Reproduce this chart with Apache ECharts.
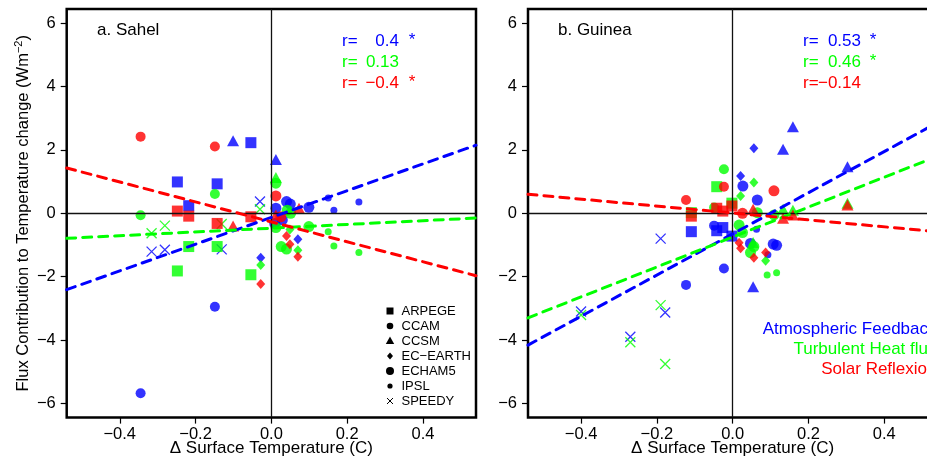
<!DOCTYPE html>
<html><head><meta charset="utf-8">
<script src="https://cdn.jsdelivr.net/npm/echarts@6/dist/echarts.min.js"></script>
<style>
html,body{margin:0;padding:0;overflow:hidden;background:#fff;width:927px;height:459px}
#c{width:960px;height:459px}
</style></head>
<body><div id="c"></div>
<script>
// ---------------- DATA ----------------
const xTicks = [-0.4, -0.2, 0, 0.2, 0.4];
const yTicks = [-6, -4, -2, 0, 2, 4, 6];
const models = ['ARPEGE', 'CCAM', 'CCSM', 'EC-EARTH', 'ECHAM5', 'IPSL', 'SPEEDY'];
const components = ['Atmospheric Feedback', 'Turbulent Heat flux', 'Solar Reflexion'];
const panelTitles = ['a. Sahel', 'b. Guinea'];

// [dT, flux, model]  -- Sahel
const sahelAtm = [
  [-0.248, 0.99, 'ARPEGE'], [-0.218, 0.24, 'ARPEGE'], [-0.143, 0.93, 'ARPEGE'], [-0.054, 2.23, 'ARPEGE'],
  [-0.345, -5.68, 'CCAM'], [-0.149, -2.95, 'CCAM'],
  [-0.101, 2.29, 'CCSM'], [0.012, 1.70, 'CCSM'],
  [-0.028, -1.40, 'EC-EARTH'], [0.070, -0.82, 'EC-EARTH'],
  [0.040, 0.37, 'ECHAM5'], [0.050, 0.29, 'ECHAM5'], [0.099, 0.19, 'ECHAM5'], [0.012, 0.16, 'ECHAM5'], [0.029, -0.21, 'ECHAM5'], [0.009, -0.32, 'ECHAM5'],
  [0.150, 0.48, 'IPSL'], [0.165, 0.10, 'IPSL'], [0.231, 0.36, 'IPSL'],
  [-0.316, -1.21, 'SPEEDY'], [-0.281, -1.15, 'SPEEDY'], [-0.131, -1.14, 'SPEEDY'], [-0.030, 0.37, 'SPEEDY']
];
const sahelTurb = [
  [-0.248, -1.82, 'ARPEGE'], [-0.218, -1.05, 'ARPEGE'], [-0.143, -1.05, 'ARPEGE'], [-0.054, -1.94, 'ARPEGE'],
  [-0.345, -0.06, 'CCAM'], [-0.149, 0.61, 'CCAM'],
  [0.012, 1.13, 'CCSM'],
  [-0.028, -1.63, 'EC-EARTH'], [0.070, -1.17, 'EC-EARTH'], [0.049, -0.51, 'EC-EARTH'],
  [0.012, 0.95, 'ECHAM5'], [0.042, 0.10, 'ECHAM5'], [0.051, 0.00, 'ECHAM5'], [0.012, -0.45, 'ECHAM5'], [0.099, -0.42, 'ECHAM5'], [0.026, -1.05, 'ECHAM5'], [0.040, -1.13, 'ECHAM5'],
  [0.150, -0.58, 'IPSL'], [0.165, -1.03, 'IPSL'], [0.231, -1.24, 'IPSL'],
  [-0.316, -0.63, 'SPEEDY'], [-0.281, -0.39, 'SPEEDY'], [-0.131, -0.34, 'SPEEDY'], [-0.030, 0.13, 'SPEEDY']
];
const sahelSol = [
  [-0.248, 0.07, 'ARPEGE'], [-0.218, -0.09, 'ARPEGE'], [-0.143, -0.32, 'ARPEGE'], [-0.054, -0.11, 'ARPEGE'],
  [-0.345, 2.42, 'CCAM'], [-0.149, 2.11, 'CCAM'],
  [-0.101, -0.40, 'CCSM'], [0.012, -0.05, 'CCSM'], [0.073, 0.16, 'CCSM'],
  [-0.028, -2.23, 'EC-EARTH'], [0.070, -1.37, 'EC-EARTH'], [0.049, -0.98, 'EC-EARTH'], [0.040, -0.72, 'EC-EARTH'],
  [0.012, 0.55, 'ECHAM5'], [0.025, -0.11, 'ECHAM5']
];
// Guinea
const guineaAtm = [
  [-0.109, -0.58, 'ARPEGE'], [-0.042, -0.55, 'ARPEGE'], [-0.026, -0.45, 'ARPEGE'], [-0.002, -0.72, 'ARPEGE'],
  [-0.123, -2.26, 'CCAM'], [-0.023, -1.74, 'CCAM'], [-0.049, -0.39, 'CCAM'],
  [0.159, 2.73, 'CCSM'], [0.133, 2.02, 'CCSM'], [0.303, 1.47, 'CCSM'], [0.054, -2.32, 'CCSM'],
  [0.056, 2.05, 'EC-EARTH'], [0.021, 1.18, 'EC-EARTH'],
  [0.027, 0.86, 'ECHAM5'], [0.065, 0.42, 'ECHAM5'], [0.047, -0.95, 'ECHAM5'], [0.107, -0.97, 'ECHAM5'], [0.116, -1.01, 'ECHAM5'],
  [0.063, -0.50, 'IPSL'], [0.093, -1.31, 'IPSL'],
  [-0.400, -3.10, 'SPEEDY'], [-0.270, -3.90, 'SPEEDY'], [-0.190, -0.80, 'SPEEDY'], [-0.178, -3.13, 'SPEEDY']
];
const guineaTurb = [
  [-0.109, 0.02, 'ARPEGE'], [-0.042, 0.84, 'ARPEGE'], [-0.002, 0.32, 'ARPEGE'],
  [-0.023, 1.39, 'CCAM'], [-0.049, 0.18, 'CCAM'],
  [0.159, 0.10, 'CCSM'], [0.133, 0.13, 'CCSM'], [0.303, 0.32, 'CCSM'], [0.054, -0.92, 'CCSM'],
  [0.056, 0.97, 'EC-EARTH'], [0.021, 0.55, 'EC-EARTH'], [0.087, -1.50, 'EC-EARTH'],
  [0.065, 0.02, 'ECHAM5'], [0.109, -0.05, 'ECHAM5'], [0.017, -0.37, 'ECHAM5'], [0.026, -0.61, 'ECHAM5'], [0.056, -1.05, 'ECHAM5'], [0.047, -1.24, 'ECHAM5'],
  [0.091, -1.95, 'IPSL'], [0.116, -1.88, 'IPSL'],
  [-0.400, -3.21, 'SPEEDY'], [-0.270, -4.07, 'SPEEDY'], [-0.190, -2.90, 'SPEEDY'], [-0.178, -4.76, 'SPEEDY']
];
const guineaSol = [
  [-0.109, -0.09, 'ARPEGE'], [-0.042, 0.16, 'ARPEGE'], [-0.026, 0.07, 'ARPEGE'], [-0.002, 0.23, 'ARPEGE'],
  [-0.123, 0.42, 'CCAM'], [-0.023, 0.84, 'CCAM'],
  [0.159, -0.05, 'CCSM'], [0.133, -0.16, 'CCSM'], [0.303, 0.26, 'CCSM'], [0.054, 0.13, 'CCSM'],
  [0.056, -1.40, 'EC-EARTH'], [0.021, -1.10, 'EC-EARTH'], [0.087, -1.24, 'EC-EARTH'], [0.017, -0.93, 'EC-EARTH'],
  [0.109, 0.71, 'ECHAM5'], [0.026, 0.00, 'ECHAM5']
];

// regression lines (end points)
const sahelFitAtm = [[-0.54, -2.41], [0.54, 2.15]];
const sahelFitTurb = [[-0.54, -0.79], [0.54, -0.15]];
const sahelFitSol = [[-0.54, 1.43], [0.54, -1.97]];
const guineaFitAtm = [[-0.54, -4.16], [0.54, 2.86]];
const guineaFitTurb = [[-0.54, -3.30], [0.54, 1.80]];
const guineaFitSol = [[-0.54, 0.60], [0.54, -0.58]];

const sahelR = ['0.4', '0.13', '\u22120.4'];
const sahelSig = [true, false, true];
const guineaR = ['0.53', '0.46', '\u22120.14'];
const guineaSig = [true, true, false];

// ---------------- STYLE ----------------
const FONT = '"Liberation Sans", Arial, Helvetica, sans-serif';
const colors = ['#0000ff', '#00ff00', '#ff0000'];
const XPATH = 'path://M0,0L10,10M10,0L0,10';
const symbolStyle = {
  'ARPEGE': { symbol: 'rect', size: 11 },
  'CCAM': { symbol: 'circle', size: 10 },
  'CCSM': { symbol: 'triangle', size: [12, 11] },
  'EC-EARTH': { symbol: 'diamond', size: [9, 10] },
  'ECHAM5': { symbol: 'circle', size: 11 },
  'IPSL': { symbol: 'circle', size: 7 },
  'SPEEDY': { symbol: XPATH, size: 10 }
};
const gridL = [66.7, 528];
const gridTop = 9, gridW = 409.3, gridH = 408.6;
const XMIN = -0.54, XMAX = 0.54, YMIN = -6.45, YMAX = 6.45;

function minus(v, d) {
  const s = d === undefined ? String(Math.abs(v)) : Math.abs(v).toFixed(d);
  return (v < 0 ? '\u2212' : '') + s;
}

function buildItems(arr, color) {
  return arr.map(([x, y, m]) => {
    const s = symbolStyle[m];
    const isX = m === 'SPEEDY';
    return {
      value: [x, y], name: m, symbol: s.symbol, symbolSize: s.size,
      itemStyle: isX ? { color: 'rgba(0,0,0,0)', borderColor: color, borderWidth: 1.3 }
                     : { color: color, borderWidth: 0 }
    };
  });
}

const panels = [
  { pts: [sahelAtm, sahelTurb, sahelSol], fits: [sahelFitAtm, sahelFitTurb, sahelFitSol] },
  { pts: [guineaAtm, guineaTurb, guineaSol], fits: [guineaFitAtm, guineaFitTurb, guineaFitSol] }
];

const grids = [], xAxes = [], yAxes = [], series = [];
panels.forEach((p, gi) => {
  grids.push({ left: gridL[gi], top: gridTop, width: gridW, height: gridH, show: true,
    borderColor: '#000', borderWidth: 2.5, backgroundColor: 'transparent', containLabel: false, outerBoundsMode: 'none' });
  xAxes.push({
    gridIndex: gi, type: 'value', min: XMIN, max: XMAX,
    axisLine: { show: false, onZero: false }, splitLine: { show: false },
    axisTick: { show: true, length: 6, lineStyle: { color: '#000', width: 1.2 }, customValues: xTicks },
    axisLabel: { customValues: xTicks, margin: 8, color: '#000', fontSize: 16.5, fontFamily: FONT,
      formatter: v => minus(v, 1) },
    name: '\u0394 Surface Temperature (C)', nameLocation: 'middle', nameGap: 22, nameMoveOverlap: false,
    nameTextStyle: { fontSize: 17, fontFamily: FONT, color: '#000' }
  });
  const ya = {
    gridIndex: gi, type: 'value', min: YMIN, max: YMAX,
    axisLine: { show: false, onZero: false }, splitLine: { show: false },
    axisTick: { show: true, length: 6, lineStyle: { color: '#000', width: 1.2 }, customValues: yTicks },
    axisLabel: { customValues: yTicks, margin: 11, color: '#000', fontSize: 16.5, fontFamily: FONT,
      formatter: v => minus(v) }
  };
  if (gi === 0) {
    ya.name = '{a|Flux Contribution to Temperature change (Wm}{b|\u22122}{a|)}';
    ya.nameLocation = 'middle';
    ya.nameRotate = 90;
    ya.nameGap = 33;
    ya.nameMoveOverlap = false;
    ya.nameTextStyle = { rich: {
      a: { fontSize: 16.5, fontFamily: FONT, color: '#000', lineHeight: 20 },
      b: { fontSize: 11, fontFamily: FONT, color: '#000', lineHeight: 20, verticalAlign: 'top' }
    } };
  }
  yAxes.push(ya);

  // zero reference lines
  series.push({
    type: 'line', xAxisIndex: gi, yAxisIndex: gi, data: [], z: 1, silent: true,
    markLine: { silent: true, symbol: ['none', 'none'], label: { show: false }, animation: false,
      lineStyle: { color: '#111', width: 1.3, type: 'solid' },
      data: [{ xAxis: 0 }, { yAxis: 0 }] }
  });
  p.pts.forEach((arr, ci) => {
    series.push({
      type: 'scatter', name: components[ci], xAxisIndex: gi, yAxisIndex: gi, z: 2 + ci,
      data: buildItems(arr, colors[ci])
    });
  });
  p.fits.forEach((arr, ci) => {
    series.push({
      type: 'line', xAxisIndex: gi, yAxisIndex: gi, z: 6, symbol: 'none', showSymbol: false, clip: true,
      data: arr, lineStyle: { color: colors[ci], width: 3, type: [9, 7], cap: 'round' }
    });
  });
});

// ---------------- TEXT / LEGEND GRAPHICS ----------------
const graphic = [];
function txt(text, x, y, color, size, align) {
  graphic.push({ type: 'text', silent: true, z: 20, style: { text, x, y, fill: color,
    font: size + 'px ' + FONT, align: align || 'left', verticalAlign: 'middle' } });
}
txt(panelTitles[0], 97, 30, '#000', 17);
txt(panelTitles[1], 558, 30, '#000', 17);
const rRows = [41.7, 62.3, 83.3];
[[sahelR, sahelSig, 342, 399, 412], [guineaR, guineaSig, 803, 861, 873]].forEach(([vals, sig, xr, xv, xs]) => {
  vals.forEach((v, i) => {
    txt('r=', xr, rRows[i], colors[i], 17);
    txt(v, xv, rRows[i], colors[i], 17, 'right');
    if (sig[i]) txt('*', xs, rRows[i] - 1, colors[i], 17, 'center');
  });
});
components.forEach((c, i) => txt(c, 936.5, 329 + i * 20, colors[i], 17, 'right'));

// model legend (left panel)
models.forEach((m, i) => {
  const cy = 311 + i * 15, cx = 390;
  txt(m === 'EC-EARTH' ? 'EC\u2212EARTH' : m, 401.5, cy, '#000', 13);
  let el;
  if (m === 'ARPEGE') el = { type: 'rect', shape: { x: cx - 3.5, y: cy - 3.5, width: 7, height: 7 }, style: { fill: '#000' } };
  else if (m === 'CCAM') el = { type: 'circle', shape: { cx, cy, r: 3.3 }, style: { fill: '#000' } };
  else if (m === 'CCSM') el = { type: 'polygon', shape: { points: [[cx, cy - 4.5], [cx + 4.2, cy + 3], [cx - 4.2, cy + 3]] }, style: { fill: '#000' } };
  else if (m === 'EC-EARTH') el = { type: 'polygon', shape: { points: [[cx, cy - 3.5], [cx + 3, cy], [cx, cy + 3.5], [cx - 3, cy]] }, style: { fill: '#000' } };
  else if (m === 'ECHAM5') el = { type: 'circle', shape: { cx, cy, r: 4 }, style: { fill: '#000' } };
  else if (m === 'IPSL') el = { type: 'circle', shape: { cx, cy, r: 2.6 }, style: { fill: '#000' } };
  else el = { type: 'group', children: [
    { type: 'line', shape: { x1: cx - 3, y1: cy - 3, x2: cx + 3, y2: cy + 3 }, style: { stroke: '#000', lineWidth: 1 } },
    { type: 'line', shape: { x1: cx - 3, y1: cy + 3, x2: cx + 3, y2: cy - 3 }, style: { stroke: '#000', lineWidth: 1 } }
  ] };
  el.silent = true; el.z = 20;
  graphic.push(el);
});

const chart = echarts.init(document.getElementById('c'), null, { renderer: 'canvas' });
chart.setOption({
  animation: false,
  backgroundColor: '#fff',
  grid: grids, xAxis: xAxes, yAxis: yAxes, series, graphic
});
</script>
</body></html>
